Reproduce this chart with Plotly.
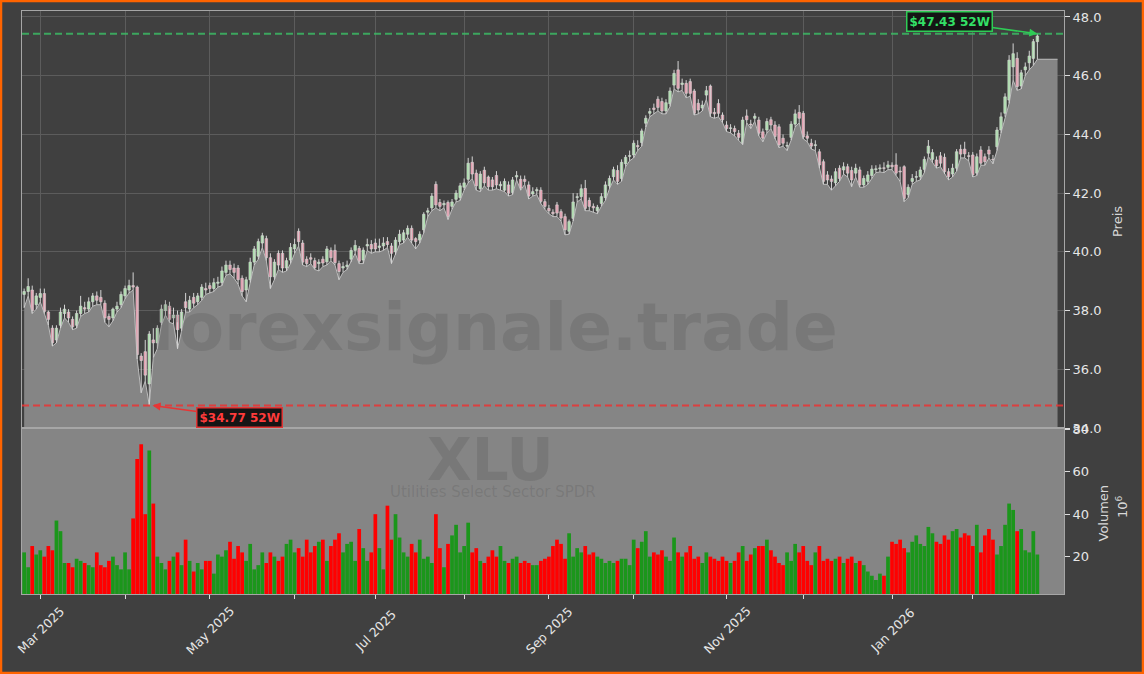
import pandas as pd
import plotly.graph_objects as go

# ---------------- data ----------------
holidays = ["2025-04-18", "2025-05-26", "2025-06-19", "2025-07-04", "2025-09-01",
            "2025-11-27", "2025-12-25", "2026-01-01", "2026-01-19", "2026-02-16"]
_days = [d.strftime("%Y-%m-%d") for d in pd.bdate_range("2025-02-25", "2026-03-10")]
_days = [d for d in _days if d not in holidays]

opens = [
    38.55, 38.65, 38.70, 38.20, 38.45, 38.58, 37.95, 37.40, 37.00, 37.50,
    37.90, 37.95, 37.70, 37.50, 37.90, 38.10, 38.05, 38.30, 38.50, 38.45,
    38.25, 37.80, 37.75, 38.05, 38.20, 38.50, 38.70, 38.85, 38.80, 36.45,
    36.60, 35.50, 37.00, 36.90, 37.60, 38.00, 38.15, 37.75, 37.85, 37.40,
    38.30, 38.05, 38.45, 38.30, 38.45, 38.75, 38.85, 38.75, 38.93, 38.95,
    39.30, 39.55, 39.45, 39.45, 39.10, 38.70, 39.05, 39.65, 39.85, 40.30,
    40.45, 39.80, 39.15, 39.95, 39.95, 39.45, 39.72, 40.10, 40.70, 40.30,
    39.75, 39.80, 39.70, 39.60, 39.75, 39.66, 40.05, 40.05, 39.60, 39.45,
    39.50, 39.75, 40.05, 40.12, 39.72, 40.20, 40.25, 40.30, 40.15, 40.20,
    40.35, 40.20, 40.00, 40.35, 40.40, 40.60, 40.80, 40.45, 40.40, 40.75,
    41.35, 41.50, 42.30, 41.68, 41.60, 41.68, 41.55, 41.79, 41.85, 42.20,
    42.47, 43.05, 42.68, 42.15, 42.78, 42.55, 42.45, 42.60, 42.25, 42.10,
    42.28, 42.02, 42.55, 42.47, 42.47, 42.28, 41.97, 42.08, 42.10, 41.71,
    41.48, 41.35, 41.60, 41.37, 41.20, 40.70, 41.14, 41.85, 41.88, 42.16,
    41.75, 41.55, 41.40, 41.65, 41.85, 42.25, 42.56, 42.77, 42.50, 43.00,
    43.25, 43.30, 43.62, 43.72, 44.38, 44.72, 44.90, 45.20, 45.12, 44.80,
    45.04, 45.68, 46.20, 45.70, 45.74, 45.80, 45.48, 45.06, 44.90, 45.34,
    45.65, 44.75, 45.05, 44.66, 44.32, 44.20, 44.20, 44.04, 43.70, 44.63,
    44.35, 44.55, 44.49, 44.09, 44.15, 44.50, 44.32, 44.26, 43.87, 43.60,
    43.90, 44.35, 44.75, 44.72, 43.95, 43.70, 43.62, 43.41, 43.07, 42.62,
    42.48, 42.35, 42.85, 42.79, 42.90, 42.77, 42.68, 42.79, 42.28, 42.40,
    42.60, 42.80, 42.83, 42.86, 42.88, 42.95, 42.96, 42.75, 42.90, 41.95,
    42.40, 42.54, 42.56, 42.81, 43.36, 43.15, 43.13, 43.27, 43.22, 42.73,
    42.65, 42.85, 43.49, 43.50, 43.27, 43.30, 42.68, 43.47, 43.24, 43.47,
    43.15, 43.58, 44.15, 44.72, 45.17, 46.30, 46.59, 45.65, 46.20, 46.44,
    46.59, 47.16]

highs = [
    38.75, 39.10, 38.85, 38.60, 38.75, 38.75, 38.00, 37.50, 37.50, 38.10,
    38.20, 38.05, 37.80, 38.00, 38.50, 38.30, 38.45, 38.60, 38.65, 38.70,
    38.35, 37.90, 38.10, 38.30, 38.65, 38.85, 39.05, 39.30, 38.85, 36.55,
    37.00, 37.30, 37.40, 37.50, 38.20, 38.35, 38.30, 38.10, 38.00, 38.05,
    38.60, 38.50, 38.60, 38.60, 38.90, 38.95, 38.95, 39.10, 39.15, 39.50,
    39.70, 39.70, 39.60, 39.55, 39.20, 39.15, 39.80, 40.20, 40.45, 40.65,
    40.55, 39.95, 39.75, 40.05, 40.05, 39.80, 40.30, 40.45, 40.80, 40.40,
    39.85, 39.95, 39.80, 39.75, 39.85, 40.20, 40.15, 40.25, 39.70, 39.65,
    39.70, 40.15, 40.40, 40.20, 40.15, 40.45, 40.40, 40.45, 40.45, 40.50,
    40.50, 40.30, 40.50, 40.75, 40.75, 40.90, 40.90, 40.50, 40.70, 41.35,
    41.50, 42.00, 42.40, 41.80, 41.75, 41.75, 41.80, 42.10, 42.35, 42.50,
    43.20, 43.25, 42.80, 42.75, 42.90, 42.60, 42.55, 42.75, 42.40, 42.50,
    42.40, 42.55, 42.75, 42.60, 42.60, 42.40, 42.20, 42.20, 42.20, 41.80,
    41.60, 41.45, 41.70, 41.45, 41.30, 41.10, 42.00, 42.00, 42.30, 42.45,
    41.85, 41.65, 41.60, 42.00, 42.40, 42.60, 42.90, 42.95, 43.15, 43.30,
    43.45, 43.80, 43.80, 44.20, 44.65, 44.90, 45.05, 45.30, 45.25, 45.20,
    45.60, 46.20, 46.50, 45.90, 45.85, 45.90, 45.55, 45.20, 45.15, 45.65,
    45.70, 44.90, 45.20, 44.75, 44.45, 44.35, 44.30, 44.15, 44.60, 44.85,
    44.50, 44.72, 44.60, 44.20, 44.55, 44.60, 44.45, 44.35, 44.00, 43.75,
    44.45, 44.85, 45.00, 44.80, 44.10, 43.85, 43.80, 43.50, 43.15, 42.75,
    42.60, 42.85, 42.95, 43.05, 43.00, 42.90, 43.00, 42.90, 42.60, 42.75,
    42.95, 42.95, 42.98, 43.05, 43.10, 43.05, 43.36, 42.90, 42.95, 42.30,
    42.65, 42.75, 42.90, 43.25, 43.81, 43.50, 43.25, 43.40, 43.35, 42.85,
    43.00, 43.50, 43.65, 43.75, 43.40, 43.40, 43.35, 43.60, 43.35, 43.60,
    43.30, 44.25, 44.75, 45.40, 46.70, 47.10, 46.80, 46.20, 46.45, 46.85,
    47.25, 47.43]

lows = [
    38.10, 38.50, 37.90, 38.05, 38.30, 37.90, 37.50, 36.79, 36.90, 37.40,
    37.75, 37.60, 37.35, 37.40, 37.80, 37.90, 37.95, 38.15, 38.20, 38.20,
    37.60, 37.45, 37.65, 37.95, 38.10, 38.40, 38.60, 38.70, 36.35, 35.20,
    35.60, 34.77, 36.40, 36.70, 37.50, 37.85, 37.60, 37.55, 36.70, 37.30,
    37.95, 37.95, 38.10, 38.20, 38.35, 38.55, 38.60, 38.65, 38.80, 38.85,
    39.20, 39.25, 39.10, 38.90, 38.50, 38.30, 38.95, 39.55, 39.75, 40.15,
    39.70, 38.75, 39.05, 39.40, 39.30, 39.35, 39.60, 39.95, 40.20, 39.55,
    39.50, 39.60, 39.40, 39.35, 39.50, 39.55, 39.70, 39.55, 39.05, 39.30,
    39.40, 39.65, 39.95, 39.60, 39.60, 40.05, 39.95, 40.00, 40.00, 40.05,
    40.15, 39.60, 39.90, 40.25, 40.30, 40.50, 40.30, 40.10, 40.30, 40.65,
    41.20, 41.40, 41.50, 41.40, 41.50, 41.10, 41.45, 41.70, 41.75, 42.10,
    42.35, 42.50, 42.10, 42.05, 42.25, 42.10, 42.10, 42.15, 42.10, 42.05,
    41.90, 41.95, 42.45, 42.10, 42.30, 41.80, 41.90, 41.95, 41.65, 41.45,
    41.30, 41.20, 41.20, 41.05, 40.58, 40.60, 41.05, 41.70, 41.80, 41.40,
    41.40, 41.35, 41.30, 41.55, 41.75, 42.15, 42.45, 42.30, 42.40, 42.90,
    43.10, 43.20, 43.45, 43.60, 44.25, 44.60, 44.70, 44.80, 44.70, 44.70,
    44.95, 45.55, 45.45, 45.50, 45.25, 45.30, 44.66, 44.70, 44.80, 45.20,
    44.60, 44.55, 44.60, 44.40, 44.10, 44.05, 43.95, 43.80, 43.65, 44.40,
    44.20, 44.45, 43.95, 43.75, 44.05, 44.20, 43.85, 43.55, 43.60, 43.45,
    43.80, 44.25, 44.40, 43.85, 43.75, 43.50, 43.45, 42.85, 42.30, 42.30,
    42.10, 42.25, 42.40, 42.65, 42.55, 42.22, 42.55, 42.20, 42.20, 42.30,
    42.50, 42.70, 42.72, 42.70, 42.80, 42.80, 42.60, 42.40, 41.71, 41.85,
    42.30, 42.40, 42.45, 42.70, 43.25, 43.05, 42.85, 42.90, 42.65, 42.45,
    42.55, 42.75, 43.20, 43.20, 43.10, 42.55, 42.60, 42.95, 42.95, 43.20,
    43.00, 43.45, 44.05, 44.60, 45.05, 45.85, 45.50, 45.55, 46.00, 46.20,
    46.35, 46.56]

closes = [
    38.65, 38.82, 38.00, 38.50, 38.58, 37.97, 37.70, 36.90, 37.40, 37.95,
    38.05, 37.75, 37.45, 37.90, 38.15, 38.05, 38.30, 38.50, 38.35, 38.30,
    37.75, 37.70, 38.05, 38.15, 38.55, 38.75, 38.85, 38.80, 36.50, 36.30,
    35.80, 37.20, 36.90, 37.40, 38.05, 38.20, 37.70, 37.85, 37.35, 37.95,
    38.10, 38.35, 38.25, 38.50, 38.80, 38.70, 38.75, 38.95, 38.97, 39.35,
    39.55, 39.40, 39.30, 39.05, 38.65, 39.05, 39.65, 40.10, 40.35, 40.55,
    39.80, 39.15, 39.65, 39.55, 39.45, 39.70, 40.15, 40.25, 40.35, 39.65,
    39.60, 39.75, 39.46, 39.65, 39.62, 40.10, 39.80, 39.63, 39.33, 39.50,
    39.55, 40.05, 40.22, 39.68, 40.06, 40.25, 40.10, 40.10, 40.20, 40.30,
    40.25, 39.95, 40.40, 40.60, 40.65, 40.80, 40.40, 40.35, 40.60, 41.28,
    41.40, 41.90, 41.60, 41.55, 41.65, 41.20, 41.70, 42.00, 42.25, 42.35,
    43.02, 42.65, 42.25, 42.65, 42.35, 42.22, 42.22, 42.28, 42.30, 42.40,
    42.00, 42.45, 42.60, 42.17, 42.40, 41.90, 42.05, 42.12, 41.72, 41.55,
    41.40, 41.30, 41.32, 41.15, 40.75, 41.03, 41.70, 41.88, 42.15, 41.48,
    41.55, 41.50, 41.52, 41.88, 42.28, 42.50, 42.80, 42.40, 43.05, 43.22,
    43.28, 43.70, 43.58, 44.12, 44.55, 44.78, 44.85, 44.92, 44.80, 45.08,
    45.48, 46.08, 45.57, 45.75, 45.40, 45.40, 44.72, 44.83, 45.00, 45.49,
    44.72, 44.70, 44.72, 44.50, 44.20, 44.22, 44.10, 43.90, 44.49, 44.50,
    44.32, 44.62, 44.04, 43.87, 44.44, 44.32, 43.93, 43.64, 43.70, 43.62,
    44.35, 44.70, 44.55, 43.92, 43.87, 43.60, 43.65, 42.96, 42.40, 42.45,
    42.40, 42.73, 42.50, 42.90, 42.68, 42.45, 42.85, 42.28, 42.50, 42.62,
    42.82, 42.83, 42.86, 42.84, 42.96, 42.90, 42.68, 42.72, 41.82, 42.20,
    42.50, 42.56, 42.79, 43.15, 43.60, 43.38, 42.93, 43.02, 42.73, 42.56,
    42.85, 43.41, 43.33, 43.34, 43.25, 42.62, 43.24, 43.02, 43.07, 43.33,
    43.13, 44.15, 44.60, 45.28, 46.53, 46.75, 45.63, 46.10, 46.30, 46.67,
    47.16, 47.35]

volumes_m = [
    22, 15, 25, 21, 23, 20, 25, 23, 37, 32, 17, 17, 15, 19, 18, 17, 16, 15, 22, 16,
    15, 18, 20, 16, 14, 22,
    14, 38, 66, 73, 40, 70, 45, 20,
    17, 14, 18, 20, 22, 16, 28, 18, 13, 17, 14, 18,
    18, 12, 21, 20, 23, 27, 19, 25, 22, 18, 26, 14, 16, 22, 17,
    22, 20, 18, 20, 26, 28, 22, 24, 20, 28, 22, 25, 27, 28, 18, 25, 28, 31, 22, 26,
    27, 18, 33, 24, 18, 22,
    40, 24, 14, 44, 28, 40, 29, 22, 20, 26, 22, 28, 19, 20, 17, 40, 24, 15, 26, 30,
    35, 22,
    25, 36, 22, 24, 18, 17, 20, 23, 20, 25, 18, 17, 19, 20, 17, 18, 17, 16, 16, 18,
    19, 20,
    25, 28, 26, 19, 31, 20, 24, 22, 25, 21, 22, 20, 19, 17, 18, 17, 18, 19, 19, 16,
    28, 24, 27, 32, 20, 22, 21, 23, 20, 18, 29, 22, 20, 22, 25, 19, 20, 17, 22, 20,
    19, 18, 20,
    18, 17, 18, 22, 25, 18, 21, 24, 25, 25, 28, 23, 20, 17, 16, 22, 18, 26, 22,
    25, 18, 16, 22, 25, 18, 19, 18, 19, 20, 17, 19, 20, 17, 18, 16, 13, 11, 9, 12,
    11, 20, 27,
    26, 28, 24, 22, 27, 30, 26, 25, 34, 31, 27, 26, 30, 28, 32, 33, 29, 31, 30, 25,
    35, 22, 30, 33, 28, 21, 25, 35, 45, 42, 32, 33, 23, 22, 32, 21]

ticker = "XLU"
ticker_name = "Utilities Select Sector SPDR"
high_52w = 47.43
low_52w = 34.77
month_labels = ["Mar 2025", "", "May 2025", "", "Jul 2025", "", "Sep 2025", "",
                "Nov 2025", "", "Jan 2026", ""]

n = len(closes)
dates = _days[:n]
pad_dates = _days[n:n + 7]
all_cats = dates + pad_dates

# first trading day of each month (Mar 2025 .. Feb 2026)
month_starts = []
seen = set()
for d in dates:
    key = d[:7]
    if key not in seen:
        seen.add(key)
        if key != "2025-02":
            month_starts.append(d)
month_starts = month_starts[:12]

i_low = lows.index(min(lows))
i_high = highs.index(max(highs))

# ---------------- style ----------------
BG = "#404040"
GRAY = "#858585"
GRID = "#5c5c5c"
SPINE = "#a6a6a6"
TXT = "#e6e6e6"
FONT = "DejaVu Sans"

W, H = 1144, 674
ML, MR, MT, MB = 22, 80, 11, 80
PW, PH = W - ML - MR, H - MT - MB
VOL_TOP = (594 - 428) / PH


def px_x(px):
    return (px - ML) / PW


def px_y(py):
    return (H - MB - py) / PH


up = [c >= o for o, c in zip(opens, closes)]
vol_colors = ["#1b961b" if u else "#ff0000" for u in up]
body_base = [min(o, c) for o, c in zip(opens, closes)]
body_len = [max(abs(c - o), 0.025) for o, c in zip(opens, closes)]
body_fill = ["#86e486" if u else "#f06c8c" for u in up]

wick_x, wick_y = [], []
for d, lo, hi in zip(dates, lows, highs):
    wick_x += [d, d, None]
    wick_y += [lo, hi, None]

fig = go.Figure()

# area under lows
fig.add_trace(go.Scatter(
    x=dates + [pad_dates[4]], y=lows + [lows[-1]],
    mode="lines", fill="tozeroy", fillcolor=GRAY,
    line=dict(color="#bdbdbd", width=1),
    hoverinfo="skip", showlegend=False, xaxis="x", yaxis="y"))

# candle wicks
fig.add_trace(go.Scatter(
    x=wick_x, y=wick_y, mode="lines", line=dict(color="#d4d4d4", width=1),
    hoverinfo="skip", showlegend=False, xaxis="x", yaxis="y"))

# candle bodies
fig.add_trace(go.Bar(
    x=dates, y=body_len, base=body_base, width=0.62,
    marker=dict(color=body_fill, line=dict(color="#e0e0e0", width=0.6)),
    showlegend=False, xaxis="x", yaxis="y"))

fig.add_trace(go.Bar(
    x=dates, y=volumes_m, marker=dict(color=vol_colors, line=dict(width=0)),
    width=0.92, showlegend=False, xaxis="x2", yaxis="y2"))

xrange = [-0.53, 257.6]
common_x = dict(type="category", categoryorder="array", categoryarray=all_cats,
                range=xrange, showline=True, mirror=True, linecolor=SPINE, linewidth=1,
                zeroline=False, automargin=False)

fig.update_layout(
    width=W, height=H,
    margin=dict(l=ML, r=MR, t=MT, b=MB, autoexpand=False),
    paper_bgcolor=BG, plot_bgcolor=BG,
    font=dict(family=FONT, color=TXT, size=13),
    showlegend=False, barmode="overlay",
    xaxis=dict(common_x, domain=[0, 1], anchor="y", showticklabels=False,
               tickmode="array", tickvals=month_starts, ticks="",
               showgrid=True, gridcolor=GRID, gridwidth=1),
    xaxis2=dict(common_x, domain=[0, 1], anchor="y2", matches="x",
                tickmode="array", tickvals=month_starts, showticklabels=False,
                ticks="outside", ticklen=4, tickcolor="#dddddd",
                showgrid=False),
    yaxis=dict(domain=[VOL_TOP, 1], side="right", range=[34.0, 48.204],
               tickmode="array", tickvals=[34, 36, 38, 40, 42, 44, 46, 48],
               tickformat=".1f", ticks="outside", ticklen=5, tickcolor="#dddddd",
               showgrid=True, gridcolor=GRID, gridwidth=1, zeroline=False,
               showline=True, mirror=True, linecolor=SPINE, linewidth=1,
               automargin=False, tickfont=dict(size=13, color=TXT)),
    yaxis2=dict(domain=[0, VOL_TOP], side="right", range=[2.4, 80.6],
                tickmode="array", tickvals=[20, 40, 60, 80],
                ticks="outside", ticklen=5, tickcolor="#dddddd",
                showgrid=False, zeroline=False,
                showline=True, mirror=True, linecolor=SPINE, linewidth=1,
                automargin=False, tickfont=dict(size=13, color=TXT)),
)

shapes = [
    # volume panel background
    dict(type="rect", xref="paper", yref="paper", x0=0, x1=1, y0=0, y1=VOL_TOP,
         fillcolor=GRAY, line=dict(width=0), layer="below"),
    # 52w lines
    dict(type="line", xref="x domain", yref="y", x0=0, x1=1, y0=high_52w, y1=high_52w,
         line=dict(color="rgba(60,185,100,0.85)", width=2, dash="7px,4px")),
    dict(type="line", xref="x domain", yref="y", x0=0, x1=1, y0=low_52w, y1=low_52w,
         line=dict(color="rgba(235,50,50,0.85)", width=2, dash="7px,4px")),
    # orange frame around the whole image
    dict(type="rect", xref="paper", yref="paper",
         x0=px_x(1), x1=px_x(W - 1), y0=px_y(H - 1), y1=px_y(1),
         line=dict(color="#ff6400", width=2.5), fillcolor="rgba(0,0,0,0)", layer="above"),
]
fig.update_layout(shapes=shapes)

wm = "rgba(60,60,60,0.17)"
center = dict(xanchor="center", yanchor="middle", xref="paper", yref="paper",
              showarrow=False)
annotations = [
    dict(center, text="<b>forexsignale.trade</b>", x=px_x(494), y=px_y(327),
         font=dict(family=FONT, size=66, color=wm)),
    dict(center, text="<b>" + ticker + "</b>", x=px_x(490), y=px_y(460),
         font=dict(family=FONT, size=58, color=wm)),
    dict(center, text=ticker_name, x=px_x(493), y=px_y(492),
         font=dict(family=FONT, size=15, color=wm)),
    dict(center, text="Preis", x=px_x(1117), y=px_y(222), textangle=-90,
         font=dict(size=13, color="#d8d8d8")),
    dict(center, text="Volumen", x=px_x(1102.5), y=px_y(513), textangle=-90,
         font=dict(size=13, color="#d8d8d8")),
    dict(center, text="10<sup>6</sup>", x=px_x(1122), y=px_y(507), textangle=-90,
         font=dict(size=13, color="#d8d8d8")),
    dict(text="<b>$%.2f 52W</b>" % high_52w, x=dates[i_high], y=high_52w,
         xref="x", yref="y", showarrow=True, ax=-88, ay=-12,
         arrowhead=2, arrowsize=1, arrowwidth=1.6, arrowcolor="#2ecc55",
         font=dict(family=FONT, size=12, color="#33e066"),
         bgcolor="#151515", bordercolor="#2ecc55", borderwidth=1.5, borderpad=2),
    dict(text="<b>$%.2f 52W</b>" % low_52w, x=i_low + 0.8, y=low_52w,
         xref="x", yref="y", showarrow=True, ax=87, ay=12,
         arrowhead=2, arrowsize=1, arrowwidth=1.6, arrowcolor="#e83535",
         font=dict(family=FONT, size=12, color="#ff3b3b"),
         bgcolor="#151515", bordercolor="#e03535", borderwidth=1.5, borderpad=2),
]
# rotated month labels, centred under their ticks (matplotlib style)
for d, lab in zip(month_starts, month_labels):
    if lab:
        annotations.append(dict(text=lab, x=d, y=px_y(630), xref="x2", yref="paper",
                                xanchor="center", yanchor="middle", showarrow=False,
                                textangle=-45, font=dict(size=12.5, color=TXT)))
fig.update_layout(annotations=annotations)

fig.write_html(
    "out.html",
    config={"displayModeBar": False},
    post_script="document.body.style.margin='0';"
                "document.body.style.background='%s';" % BG)
